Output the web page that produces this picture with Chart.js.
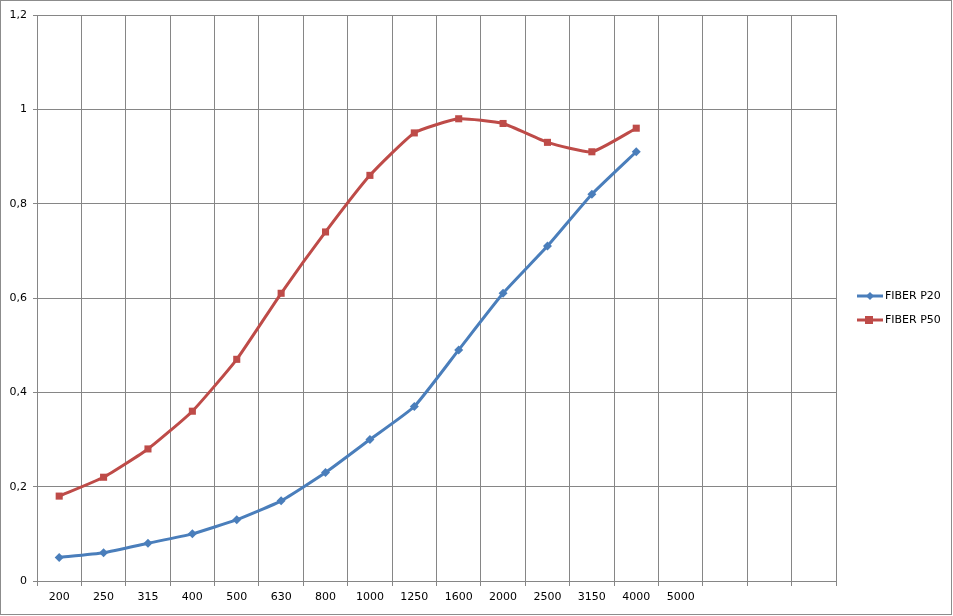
<!DOCTYPE html>
<html>
<head>
<meta charset="utf-8">
<script src="https://cdn.jsdelivr.net/npm/chart.js@4"></script>
<style>
  body { margin: 0; background: #fff; }
  #wrap { width: 953px; height: 616px; position: relative; }
</style>
</head>
<body>
<div id="wrap"><canvas id="chart" width="953" height="616"></canvas></div>
<script>
// Datos
const labels = ['200', '250', '315', '400', '500', '630', '800', '1000', '1250', '1600', '2000', '2500', '3150', '4000', '5000', '', '', ''];
const fiberP20 = [0.05, 0.06, 0.08, 0.10, 0.13, 0.17, 0.23, 0.30, 0.37, 0.49, 0.61, 0.71, 0.82, 0.91];
const fiberP50 = [0.18, 0.22, 0.28, 0.36, 0.47, 0.61, 0.74, 0.86, 0.95, 0.98, 0.97, 0.93, 0.91, 0.96];
const seriesNames = ['FIBER P20', 'FIBER P50'];

const gridColor = '#868686';

// Borde exterior y leyenda a la derecha
const frameLegend = {
    id: 'frameLegend',
    afterDraw(chart) {
        const ctx = chart.ctx;
        ctx.save();
        ctx.strokeStyle = '#8c8c8c';
        ctx.lineWidth = 1;
        ctx.strokeRect(0.5, 0.5, 951, 614);

        ctx.font = '11px "DejaVu Sans"';
        ctx.textBaseline = 'middle';
        chart.data.datasets.forEach((ds, i) => {
            const y = 296 + i * 24;
            ctx.strokeStyle = ds.borderColor;
            ctx.lineWidth = 3;
            ctx.beginPath();
            ctx.moveTo(857, y);
            ctx.lineTo(883, y);
            ctx.stroke();
            ctx.fillStyle = ds.backgroundColor;
            if (ds.pointStyle === 'rect') {
                ctx.fillRect(865, y - 4, 8, 8);
            } else {
                ctx.beginPath();
                ctx.moveTo(870, y - 4);
                ctx.lineTo(874, y);
                ctx.lineTo(870, y + 4);
                ctx.lineTo(866, y);
                ctx.closePath();
                ctx.fill();
            }
            ctx.fillStyle = '#000';
            ctx.fillText(ds.label, 885, y);
        });
        ctx.restore();
    }
};

const ctx = document.getElementById('chart').getContext('2d');
new Chart(ctx, {
    type: 'line',
    data: {
        labels: labels,
        datasets: [{
            label: seriesNames[0],
            data: fiberP20,
            borderColor: '#4a7ebb',
            backgroundColor: '#4a7ebb',
            borderWidth: 3,
            pointStyle: 'rectRot',
            pointRadius: 4.5,
            pointBorderWidth: 0,
            tension: 0.15,
            fill: false
        }, {
            label: seriesNames[1],
            data: fiberP50,
            borderColor: '#be4b48',
            backgroundColor: '#be4b48',
            borderWidth: 3,
            pointStyle: 'rect',
            pointRadius: 5,
            pointBorderWidth: 0,
            tension: 0.15,
            fill: false
        }]
    },
    options: {
        responsive: false,
        animation: false,
        layout: { padding: { left: 0, right: 117, top: 15, bottom: 0 } },
        plugins: {
            legend: { display: false },
            tooltip: { enabled: false }
        },
        scales: {
            x: {
                offset: true,
                grid: {
                    offset: true,
                    color: gridColor,
                    tickLength: 5,
                    drawOnChartArea: true
                },
                border: { color: gridColor },
                ticks: {
                    color: '#000',
                    font: { family: 'DejaVu Sans', size: 11 },
                    maxRotation: 0,
                    autoSkip: false,
                    padding: 5
                },
                afterFit(scale) { scale.height = 35; }
            },
            y: {
                min: 0,
                max: 1.2,
                grid: { color: gridColor, tickLength: 4 },
                border: { color: gridColor },
                ticks: {
                    stepSize: 0.2,
                    color: '#000',
                    font: { family: 'DejaVu Sans', size: 11 },
                    padding: 6,
                    callback: v => String(+v.toFixed(1)).replace('.', ',')
                },
                afterFit(scale) { scale.width = 37; }
            }
        }
    },
    plugins: [frameLegend]
});
</script>
</body>
</html>
